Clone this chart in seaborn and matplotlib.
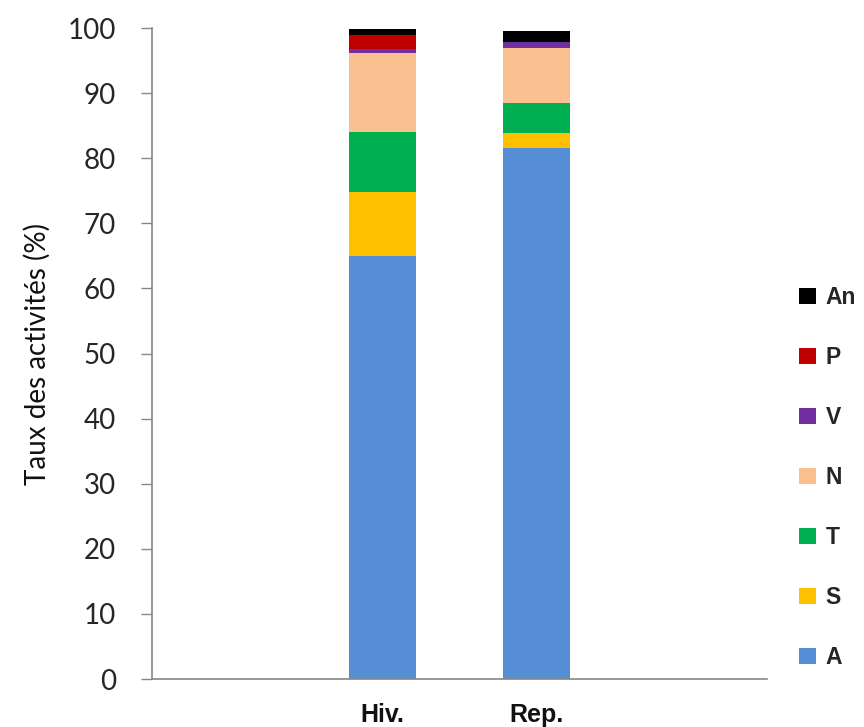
import matplotlib
matplotlib.use("Agg")
import matplotlib.pyplot as plt
import seaborn as sns
import pandas as pd
import numpy as np
from matplotlib.patches import Patch

categories = ["", "Hiv.", "Rep.", " "]
activities = ["A", "S", "T", "N", "V", "P", "An"]
val_A = [0, 65.0, 81.6, 0]
val_S = [0, 9.8, 2.2, 0]
val_T = [0, 9.2, 4.7, 0]
val_N = [0, 12.2, 8.4, 0]
val_V = [0, 0.6, 1.0, 0]
val_P = [0, 2.1, 0.0, 0]
val_An = [0, 0.9, 1.7, 0]
colors = ["#558ED5", "#FFC000", "#00B050", "#FAC090", "#7030A0", "#C00000", "#000000"]
yticks = [0, 10, 20, 30, 40, 50, 60, 70, 80, 90, 100]

series = [val_A, val_S, val_T, val_N, val_V, val_P, val_An]
df = pd.DataFrame({"cat": categories})
cum = np.zeros(len(categories))
for name, vals in zip(activities, series):
    cum = cum + np.array(vals)
    df[name] = cum.copy()

sns.set_style("white")
fig = plt.figure(figsize=(8.64, 7.27), dpi=100)
ax = fig.add_axes([152/864, 1-679/727, (767-152)/864, (679-28)/727])

for name, col in reversed(list(zip(activities, colors))):
    sns.barplot(data=df, x="cat", y=name, order=categories, color=col,
                saturation=1, width=0.44, linewidth=0, ax=ax)

ax.set_ylim(0, 100)
ax.set_xlim(-0.5, 3.5)
ax.set_yticks(yticks)
ax.set_yticklabels([str(t) for t in yticks], fontfamily="Lato", fontsize=20, color="#262626")
ax.set_xticks([-0.5, 0.5, 1.5, 2.5, 3.5])
ax.set_xticklabels([])
ax.set_xticks([0, 1, 2, 3], minor=True)
ax.set_xticklabels(categories, minor=True, fontfamily="Liberation Sans",
                   fontweight="bold", fontsize=18, color="#111111")
ax.tick_params(axis="x", which="major", length=8, width=1, color="#868686", direction="out")
ax.tick_params(axis="x", which="minor", length=0, pad=17)
ax.tick_params(axis="y", which="major", length=8, width=1, color="#868686", direction="out", pad=18, left=True)
for s in ["top", "right"]:
    ax.spines[s].set_visible(False)
for s in ["left", "bottom"]:
    ax.spines[s].set_color("#868686")
    ax.spines[s].set_linewidth(1.2)
ax.set_xlabel("")
ax.set_ylabel("Taux des activités (%)", fontfamily="Lato", fontsize=20, color="#111111", labelpad=12)

handles = [Patch(facecolor=c, edgecolor="none", label=a) for a, c in zip(activities, colors)]
handles = handles[::-1]
leg = fig.legend(handles=handles, loc="center left", bbox_to_anchor=(788/864, 1-477.5/727),
                 frameon=False, borderpad=0, handlelength=0.7, handleheight=0.7,
                 handletextpad=0.45, labelspacing=1.62,
                 prop={"family": "Liberation Sans", "weight": "bold", "size": 16.5})

fig.savefig("out.png", dpi=100)
